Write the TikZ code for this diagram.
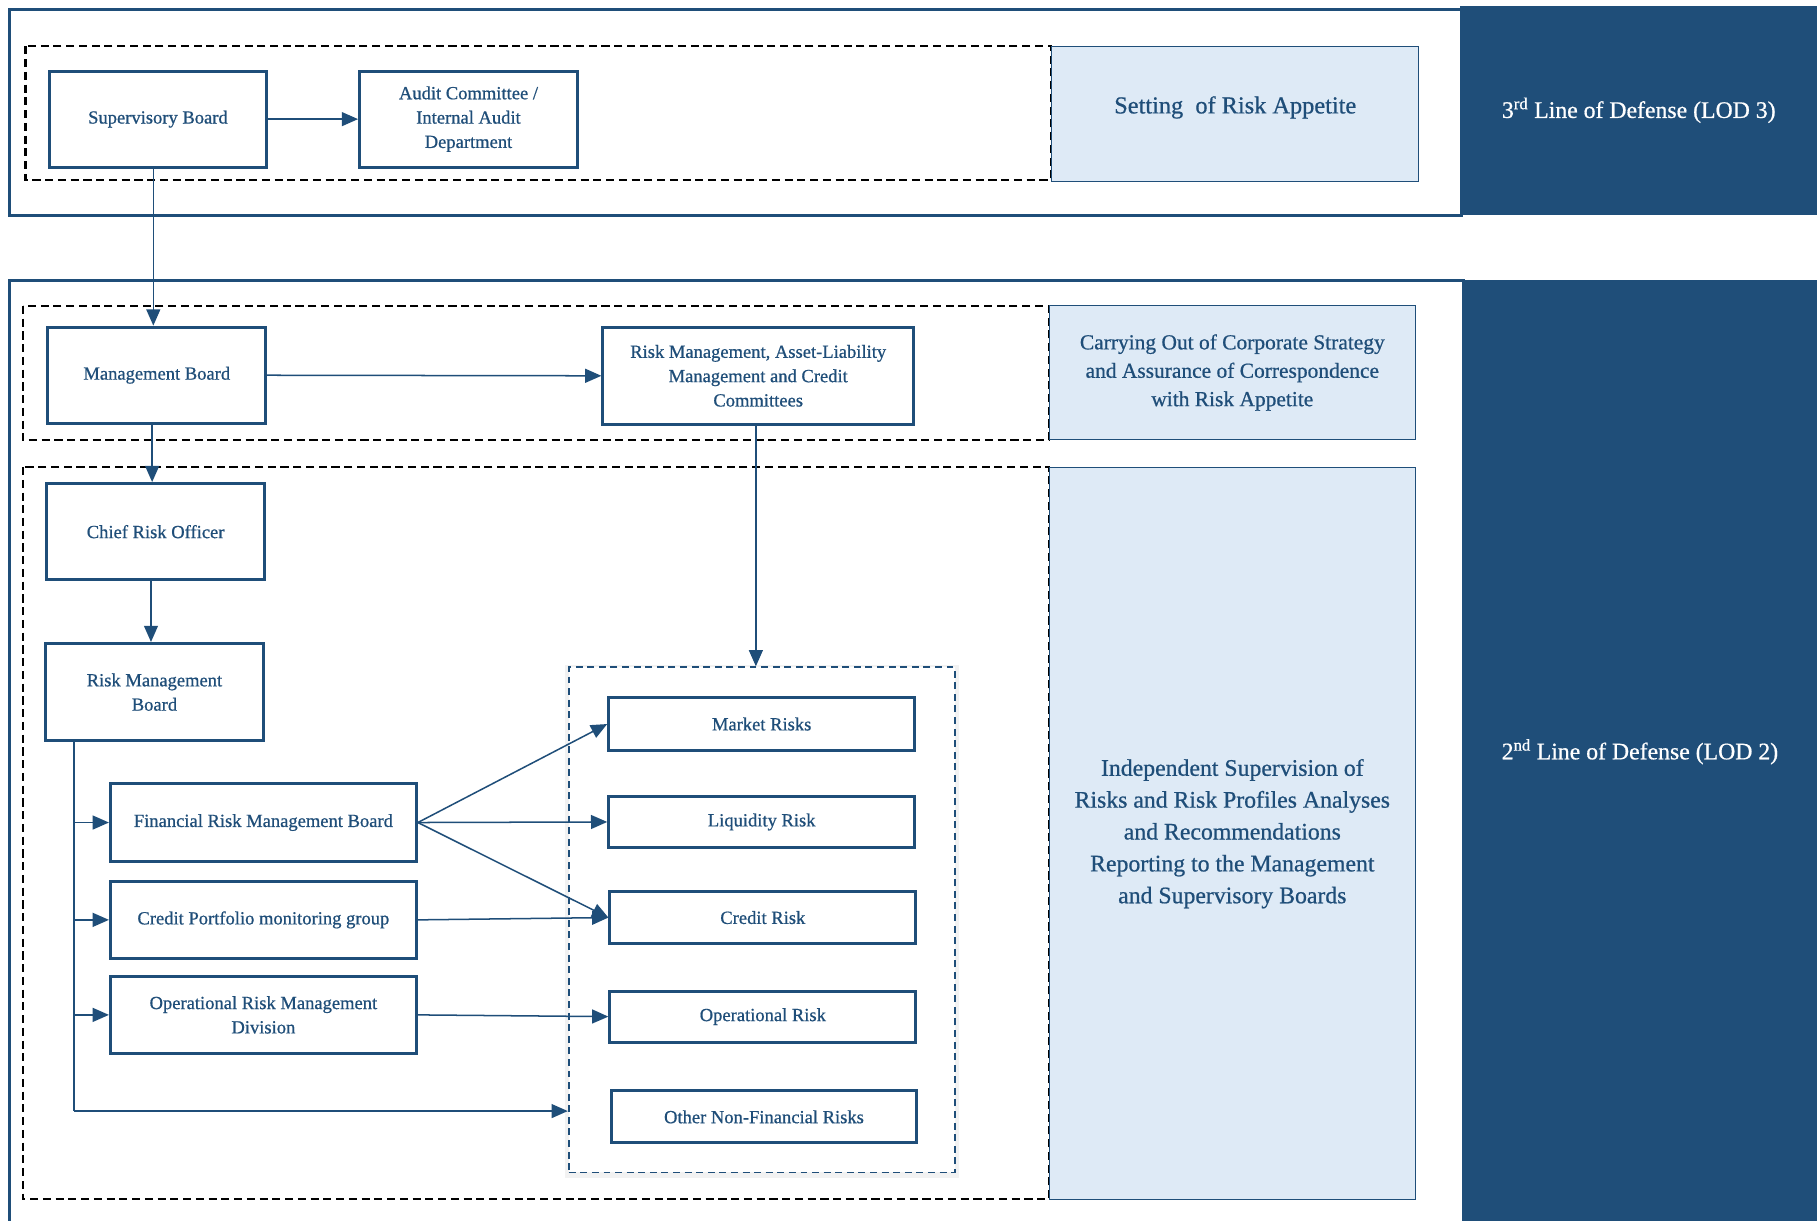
\documentclass[tikz,border=0pt]{standalone}
\usepackage{fontspec}
\setmainfont{Liberation Serif}
\newfontfamily\medfont{Liberation Serif}[FakeBold=0.7]
\usetikzlibrary{arrows.meta,calc}
\definecolor{navy}{HTML}{1F4E79}
\definecolor{pale}{HTML}{DEEAF6}
\begin{document}
\begin{tikzpicture}[x=1pt,y=-1pt,
  frame/.style={draw=navy, line width=2.2pt, anchor=north west, inner sep=0pt},
  box/.style={draw=navy, line width=2.6pt, text=navy, align=center, anchor=north west, inner sep=2pt, font=\medfont\fontsize{16}{21}\selectfont},
  panel/.style={draw=navy, line width=0.9pt, fill=pale, text=navy, align=center, anchor=north west, inner sep=2pt},
  lod/.style={fill=navy, text=white, align=center, anchor=north west, inner sep=0pt, font=\medfont\fontsize{20.5}{24}\selectfont},
  dashbox/.style={draw=black, line width=1.9pt, dash pattern=on 7pt off 4pt},
  conn/.style={draw=navy, line width=1.3pt, -{Triangle[length=14pt,width=12pt]}},
  line/.style={draw=navy, line width=1.3pt}
]
\useasboundingbox (0,0) rectangle (1568,1053);
\fill[white] (0,0) rectangle (1568,1053);

% outer frames
\node[frame, minimum width=1253pt, minimum height=178pt] (topframe) at (7,7) {};
\node[frame, minimum width=1255pt, minimum height=820pt] (botframe) at (7,241) {};

% dashed groups
\draw[dashbox] (22,40) rectangle (907,155);
\draw[dashbox] (20,264) rectangle (905,380);
\draw[dashbox] (20,403) rectangle (905,1035);

% panels
\node[panel, minimum width=317pt, minimum height=116pt, font=\medfont\fontsize{21}{26}\selectfont] (setting) at (907,40) {\raisebox{16pt}{Setting\ \ of Risk Appetite}};
\node[panel, minimum width=316pt, minimum height=116pt, font=\medfont\fontsize{18.5}{24.5}\selectfont] (carry) at (905,263) {Carrying Out of Corporate Strategy\\and Assurance of Correspondence\\with Risk Appetite};
\node[panel, minimum width=316pt, minimum height=632pt, font=\medfont\fontsize{20.5}{27.5}\selectfont] (indep) at (905,403) {Independent Supervision of\\Risks and Risk Profiles Analyses\\and Recommendations\\Reporting to the Management\\and Supervisory Boards};

% LOD panels
\node[lod, minimum width=308pt, minimum height=180pt] (lod3) at (1260,5) {3\textsuperscript{rd} Line of Defense (LOD 3)};
\node[lod, minimum width=306pt, minimum height=815pt] (lod2) at (1262,241) {2\textsuperscript{nd} Line of Defense (LOD 2)};

% risk group box
\draw[gray!10, line width=7pt] (491,577) rectangle (824,1013);
\node[draw=navy, line width=1.6pt, dash pattern=on 6pt off 4pt, fill=white, anchor=north west, inner sep=0pt, minimum width=333pt, minimum height=436pt] (riskbox) at (490,575) {};

% boxes
\node[box, minimum width=188pt, minimum height=83pt] (sb) at (41,60) {Supervisory Board};
\node[box, minimum width=188pt, minimum height=83pt] (ac) at (309,60) {Audit Committee /\\Internal Audit\\Department};
\node[box, minimum width=188pt, minimum height=83pt] (mb) at (40,281) {Management Board};
\node[box, minimum width=268pt, minimum height=84pt] (rmc) at (519,281) {Risk Management, Asset-Liability\\Management and Credit\\Committees};
\node[box, minimum width=188pt, minimum height=83pt] (cro) at (39,416) {Chief Risk Officer};
\node[box, minimum width=188pt, minimum height=84pt] (rmb) at (38,554) {Risk Management\\Board};
\node[box, minimum width=264pt, minimum height=67pt] (frmb) at (94,675) {Financial Risk Management Board};
\node[box, minimum width=264pt, minimum height=67pt] (cpmg) at (94,759) {Credit Portfolio monitoring group};
\node[box, minimum width=264pt, minimum height=67pt] (ormd) at (94,841) {Operational Risk Management\\Division};

\node[box, minimum width=264pt, minimum height=45pt] (market) at (524,601) {Market Risks};
\node[box, minimum width=264pt, minimum height=44pt] (liq) at (524,686) {Liquidity Risk};
\node[box, minimum width=264pt, minimum height=45pt] (credit) at (525,768) {Credit Risk};
\node[box, minimum width=264pt, minimum height=44pt] (oprisk) at (525,854) {Operational Risk};
\node[box, minimum width=264pt, minimum height=45pt] (other) at (526,940) {Other Non-Financial Risks};

% connectors
\coordinate (sbout) at ($(sb.south)+(-4,0)$);
\coordinate (mbout) at ($(mb.south)+(-4,0)$);
\coordinate (croout) at ($(cro.south)+(-4,0)$);
\coordinate (rmcout) at ($(rmc.south)+(-2,0)$);
\draw[conn] (sb.east) -- (ac.west);
\draw[conn] (sbout) -- (sbout |- mb.north);
\draw[conn] (mb.east) -- (rmc.west);
\draw[conn] (mbout) -- (mbout |- cro.north);
\draw[conn] (croout) -- (croout |- rmb.north);
\draw[conn] (rmcout) -- (rmcout |- riskbox.north);

\coordinate (trunk) at ($(rmb.south west)+(26,0)$);
\coordinate (trunkend) at ($(trunk |- other.west)+(0,-5)$);
\draw[line] (trunk) -- (trunkend);
\draw[conn] (trunk |- frmb.west) -- (frmb.west);
\draw[conn] (trunk |- cpmg.west) -- (cpmg.west);
\draw[conn] (trunk |- ormd.west) -- (ormd.west);
\draw[conn] (trunkend) -- (riskbox.west |- trunkend);

\draw[conn] (frmb.east) -- (market.west);
\draw[conn] (frmb.east) -- (liq.west);
\draw[conn] (frmb.east) -- (credit.west);
\draw[conn] (cpmg.east) -- (credit.west);
\draw[conn] (ormd.east) -- (oprisk.west);
\end{tikzpicture}
\end{document}
